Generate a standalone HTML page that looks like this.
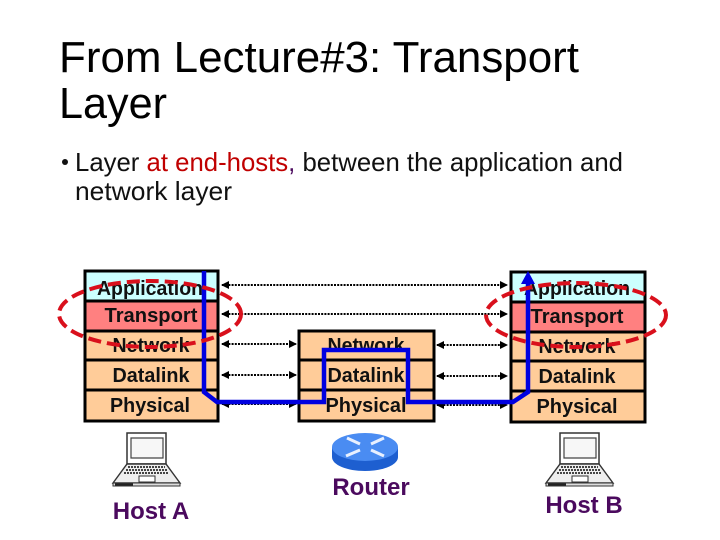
<!DOCTYPE html>
<html><head><meta charset="utf-8"><style>
html,body{margin:0;padding:0;background:#fff;width:720px;height:540px;overflow:hidden}
svg{display:block}
text{font-family:"Liberation Sans",sans-serif}
.l{font-size:20px;font-weight:bold;fill:#111;text-anchor:middle}
.h{font-size:24px;font-weight:bold;fill:#4b0a5e;text-anchor:middle}
.b{font-size:26px;fill:#111}
.t{font-size:44px;fill:#000}
</style></head><body>
<svg width="720" height="540" viewBox="0 0 720 540" xmlns="http://www.w3.org/2000/svg">
<defs>
<marker id="a" markerWidth="9" markerHeight="9" refX="7" refY="4" orient="auto-start-reverse" markerUnits="userSpaceOnUse"><path d="M0 0L8 4L0 8z" fill="#000"/></marker>
<g id="lap">
<path d="M14 0H53V31H14z" fill="#fff" stroke="#333" stroke-width="1.5"/>
<path d="M18 5H50V25H18z" fill="#f7f7f7" stroke="#444" stroke-width="1.2"/>
<path d="M14 31H53L67 50H0z" fill="#eee" stroke="#333" stroke-width="1.4"/>
<path d="M15 34H52M13 37H54M11 40H56" stroke="#444" stroke-width="2" stroke-dasharray="2 1"/>
<path d="M26 43H42V49H26z" fill="#fff" stroke="#333"/>
<path d="M0 50H67V53H0z" fill="#ddd" stroke="#333"/>
<path d="M2 51.500H20" stroke="#222" stroke-width="2"/>
</g>
</defs>
<text class="t" x="59" y="72" textLength="520" lengthAdjust="spacingAndGlyphs">From Lecture#3: Transport</text>
<text class="t" x="59" y="118" textLength="108" lengthAdjust="spacingAndGlyphs">Layer</text>
<circle cx="65" cy="162" r="3" fill="#111"/>
<text class="b" x="75" y="171" textLength="548" lengthAdjust="spacingAndGlyphs">Layer <tspan fill="#c00000">at end-hosts</tspan><tspan fill="#4b0a5e">,</tspan> between the application and</text>
<text class="b" x="75" y="200" textLength="157" lengthAdjust="spacingAndGlyphs">network layer</text>

<!-- left stack -->
<g stroke="#000" stroke-width="3">
<rect x="85" y="271" width="133" height="30" fill="#ccffff"/>
<rect x="85" y="301" width="133" height="30" fill="#ff8080"/>
<rect x="85" y="331" width="133" height="29" fill="#ffcc99"/>
<rect x="85" y="360" width="133" height="30" fill="#ffcc99"/>
<rect x="85" y="390" width="133" height="31" fill="#ffcc99"/>
</g>
<text class="l" x="150" y="295" textLength="106" lengthAdjust="spacingAndGlyphs">Application</text>
<text class="l" x="151" y="322" textLength="93" lengthAdjust="spacingAndGlyphs">Transport</text>
<text class="l" x="151" y="352" textLength="77" lengthAdjust="spacingAndGlyphs">Network</text>
<text class="l" x="151" y="382" textLength="77" lengthAdjust="spacingAndGlyphs">Datalink</text>
<text class="l" x="150" y="412" textLength="80" lengthAdjust="spacingAndGlyphs">Physical</text>

<!-- middle stack -->
<g stroke="#000" stroke-width="3">
<rect x="299" y="331" width="135" height="29" fill="#ffcc99"/>
<rect x="299" y="360" width="135" height="30" fill="#ffcc99"/>
<rect x="299" y="390" width="135" height="31" fill="#ffcc99"/>
</g>
<text class="l" x="366" y="352" textLength="77" lengthAdjust="spacingAndGlyphs">Network</text>
<text class="l" x="366" y="382" textLength="77" lengthAdjust="spacingAndGlyphs">Datalink</text>
<text class="l" x="366" y="412" textLength="81" lengthAdjust="spacingAndGlyphs">Physical</text>

<!-- right stack -->
<g stroke="#000" stroke-width="3">
<rect x="511" y="272" width="134" height="30" fill="#ccffff"/>
<rect x="511" y="302" width="134" height="30" fill="#ff8080"/>
<rect x="511" y="332" width="134" height="29" fill="#ffcc99"/>
<rect x="511" y="361" width="134" height="30" fill="#ffcc99"/>
<rect x="511" y="391" width="134" height="31" fill="#ffcc99"/>
</g>
<text class="l" x="577" y="295" textLength="106" lengthAdjust="spacingAndGlyphs">Application</text>
<text class="l" x="577" y="323" textLength="93" lengthAdjust="spacingAndGlyphs">Transport</text>
<text class="l" x="577" y="353" textLength="77" lengthAdjust="spacingAndGlyphs">Network</text>
<text class="l" x="577" y="383" textLength="77" lengthAdjust="spacingAndGlyphs">Datalink</text>
<text class="l" x="577" y="413" textLength="81" lengthAdjust="spacingAndGlyphs">Physical</text>

<!-- dotted arrows -->
<g stroke="#000" stroke-width="2" stroke-dasharray="2 1.2" fill="none">
<path d="M222 285H507" marker-start="url(#a)" marker-end="url(#a)"/>
<path d="M222 314H507" marker-start="url(#a)" marker-end="url(#a)"/>
<path d="M222 344H296" marker-start="url(#a)" marker-end="url(#a)"/>
<path d="M222 375H296" marker-start="url(#a)" marker-end="url(#a)"/>
<path d="M222 404H296" marker-start="url(#a)" marker-end="url(#a)"/>
<path d="M437 345H507" marker-start="url(#a)" marker-end="url(#a)"/>
<path d="M437 376H507" marker-start="url(#a)" marker-end="url(#a)"/>
<path d="M437 405H507" marker-start="url(#a)" marker-end="url(#a)"/>
</g>

<!-- blue path -->
<path d="M204 271V392L217 402H324V350H408V402H513L528 392V282" fill="none" stroke="#0000e0" stroke-width="4.5"/>
<path d="M528 271L521 284H535z" fill="#0000e0"/>

<!-- ellipses -->
<ellipse cx="150" cy="314" rx="91" ry="33" fill="none" stroke="#d9101c" stroke-width="4" stroke-dasharray="13 6"/>
<ellipse cx="576" cy="315" rx="90" ry="32" fill="none" stroke="#d9101c" stroke-width="4" stroke-dasharray="13 6"/>

<!-- laptops -->
<use href="#lap" x="113" y="433"/>
<use href="#lap" x="546" y="433"/>
<text class="h" x="151" y="519">Host A</text>
<text class="h" x="584" y="513">Host B</text>

<!-- router -->
<path d="M332 447V457C332 465 347 471 365 471C383 471 398 465 398 457V447z" fill="#1e5fd0"/>
<ellipse cx="365" cy="447" rx="33" ry="14" fill="#4a8cf2"/>
<g stroke="#e8f0ff" stroke-width="3" fill="none">
<path d="M347 438L360 444M371 444L384 438M346 456L360 450M371 450L384 456"/>
</g>
<text class="h" x="371" y="495">Router</text>
</svg>
</body></html>
